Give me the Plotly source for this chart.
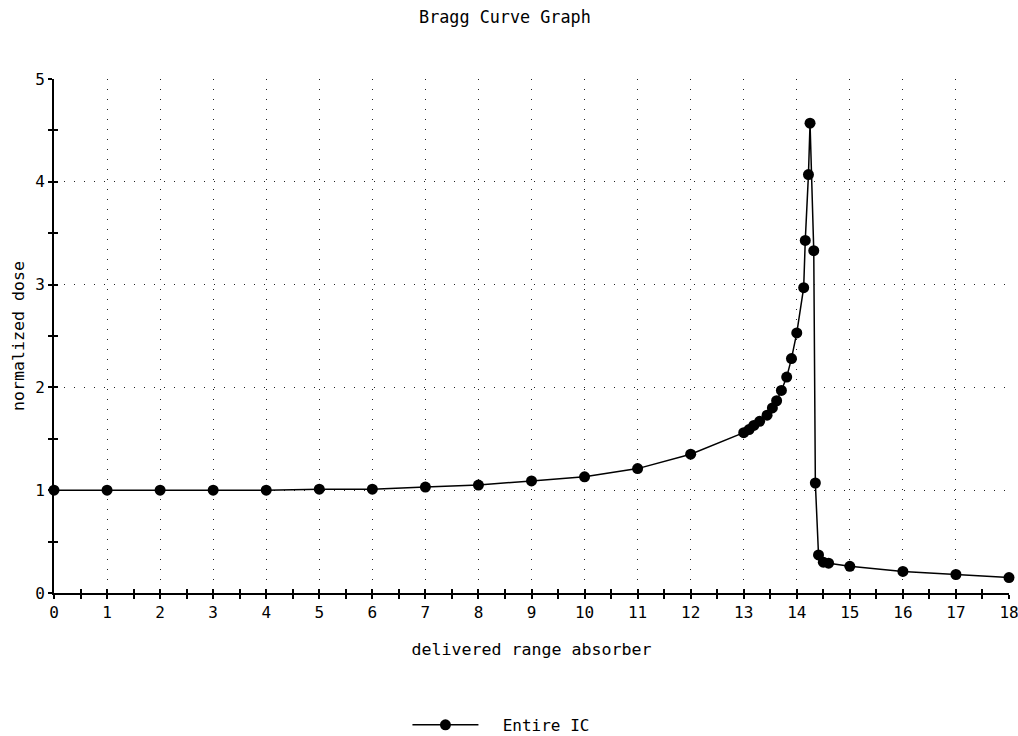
import plotly.graph_objects as go

# Bragg curve measurement: absorber range vs. normalized dose
depth = [0, 1, 2, 3, 4, 5, 6, 7, 8, 9, 10, 11, 12,
         13, 13.1, 13.19, 13.3, 13.44, 13.54, 13.62, 13.71, 13.81, 13.9, 14.0,
         14.13, 14.16, 14.22, 14.25, 14.32, 14.35, 14.41, 14.5, 14.6,
         15, 16, 17, 18]
dose = [1.0, 1.0, 1.0, 1.0, 1.0, 1.01, 1.01, 1.03, 1.05, 1.09, 1.13, 1.21, 1.35,
        1.56, 1.59, 1.63, 1.67, 1.73, 1.80, 1.87, 1.97, 2.10, 2.28, 2.53,
        2.97, 3.43, 4.07, 4.57, 3.33, 1.07, 0.37, 0.30, 0.29,
        0.26, 0.21, 0.18, 0.15]

x_ticks = list(range(0, 19))
y_ticks = list(range(0, 6))

FONT = "DejaVu Sans Mono"
FSIZE = 16

fig = go.Figure()
fig.add_trace(go.Scatter(
    x=depth, y=dose, mode="lines+markers", name="\u00a0\u00a0Entire IC",
    line=dict(color="black", width=1.5),
    marker=dict(color="black", size=11),
    cliponaxis=False,
))

grid = dict(showgrid=True, gridcolor="#222", gridwidth=1, griddash="1px,9px")
title_font = dict(family=FONT, size=16.6, color="black")

fig.update_layout(
    width=1018, height=736,
    margin=dict(l=54, r=9, t=79, b=143, autoexpand=False),
    paper_bgcolor="white", plot_bgcolor="white",
    font=dict(family=FONT, size=FSIZE, color="black"),
    title=dict(text="Bragg Curve Graph", x=0.496, xanchor="center",
               y=0.977, yanchor="middle", font=dict(family=FONT, size=16.8)),
    showlegend=True,
    legend=dict(orientation="h", x=0.468, xanchor="center",
                yref="container", y=0.015, yanchor="middle",
                itemwidth=66, font=dict(family=FONT, size=FSIZE)),
    xaxis=dict(range=[0, 18], tickvals=x_ticks, ticks="outside", ticklen=4,
               tickwidth=1.5, tickcolor="black", ticklabeloverflow="allow",
               minor=dict(dtick=0.5, ticks="outside", ticklen=4, tickwidth=1.5,
                          tickcolor="black", showgrid=False),
               showline=True, linecolor="black", linewidth=2, zeroline=False,
               title=dict(text="delivered range absorber", standoff=22,
                          font=title_font), **grid),
    yaxis=dict(range=[0, 5], tickvals=y_ticks, ticks="outside", ticklen=4,
               tickwidth=1.5, tickcolor="black",
               minor=dict(dtick=0.5, ticks="outside", ticklen=4, tickwidth=1.5,
                          tickcolor="black", showgrid=False),
               showline=True, linecolor="black", linewidth=2, zeroline=False,
               title=dict(text="normalized dose", standoff=6, font=title_font),
               **grid),
    # companion axes supply the inner half of each tick mark
    xaxis2=dict(range=[0, 18], overlaying="x", anchor="y", side="bottom",
                tickvals=x_ticks, ticks="inside", ticklen=4, tickwidth=1.5,
                tickcolor="black", showticklabels=False, showgrid=False,
                zeroline=False,
                minor=dict(dtick=0.5, ticks="inside", ticklen=4, tickwidth=1.5,
                           tickcolor="black", showgrid=False)),
    yaxis2=dict(range=[0, 5], overlaying="y", anchor="x", side="left",
                tickvals=y_ticks, ticks="inside", ticklen=4, tickwidth=1.5,
                tickcolor="black", showticklabels=False, showgrid=False,
                zeroline=False,
                minor=dict(dtick=0.5, ticks="inside", ticklen=4, tickwidth=1.5,
                           tickcolor="black", showgrid=False)),
)

# invisible trace to attach the companion axes
fig.add_trace(go.Scatter(x=[None], y=[None], xaxis="x2", yaxis="y2",
                         showlegend=False, hoverinfo="skip"))

fig.write_html("out.html")
